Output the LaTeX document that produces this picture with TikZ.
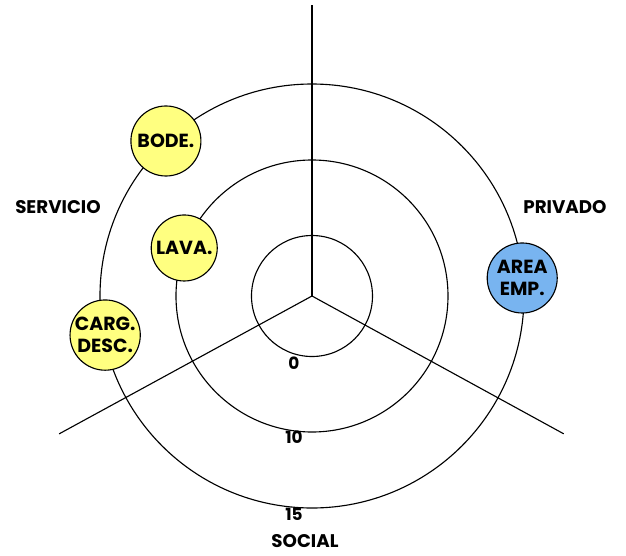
\documentclass[tikz,border=0pt]{standalone}
\usepackage{fontspec}
\setmainfont{Poppins}
\usepackage{xcolor}
\usepackage{tikz}
\usetikzlibrary{positioning}
\definecolor{zonaamarilla}{RGB}{255,255,128}
\definecolor{zonaazul}{RGB}{120,180,240}

\begin{document}
\begin{tikzpicture}[x=0.025cm,y=0.025cm,line width=0.8pt,
    zona/.style={circle,draw,inner sep=0pt,minimum size=1.75cm,
      align=center,font=\fontsize{13.5}{15.5}\selectfont\bfseries,fill=zonaamarilla},
    rotulo/.style={font=\fontsize{13}{15}\selectfont\bfseries},
    escala/.style={font=\fontsize{12}{14}\selectfont\bfseries}]
  \useasboundingbox (-312,-259) rectangle (314,296);
  \coordinate (centro) at (0,0);
  \coordinate (ejeN) at (90:291);
  \coordinate (ejeSO) at (208.6:288);
  \coordinate (ejeSE) at (-28.7:287);
  \draw (centro)--(ejeN);
  \draw (centro)--(ejeSO);
  \draw (centro)--(ejeSE);
  \foreach \r in {60.5,136,212}
    \draw (centro) circle (\r);
  \node[escala] (n0) at (-18,-67) {0};
  \node[escala] (n10) at (-18,-141) {10};
  \node[escala] (n15) at (-18,-218) {15};
  \node[rotulo] (servicio) at (-254,89) {SERVICIO};
  \node[rotulo] (privado) at (253,89) {PRIVADO};
  \node[rotulo] (social) at (-7,-245) {SOCIAL};
  \node[zona] (bode) at (133.3:213) {BODE.};
  \node[zona,minimum size=1.65cm] (lava) at (159.4:136.5) {LAVA.};
  \node[zona] (carg) at (190.7:210.5) {CARG.\\DESC.};
  \node[zona,fill=zonaazul] (area) at (4.9:211) {AREA\\EMP.};
\end{tikzpicture}
\end{document}
